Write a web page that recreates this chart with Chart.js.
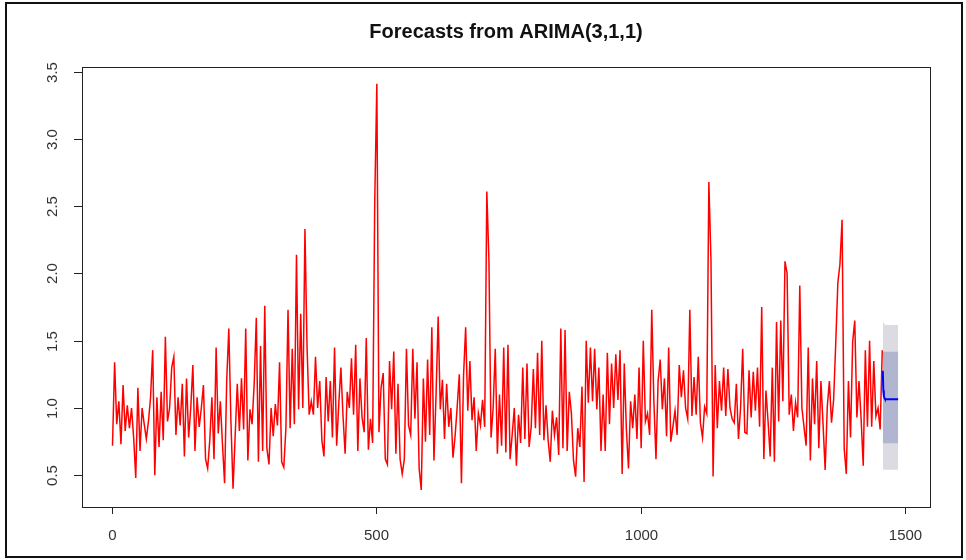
<!DOCTYPE html>
<html>
<head>
<meta charset="utf-8">
<title>Forecasts from ARIMA(3,1,1)</title>
<script src="https://cdn.jsdelivr.net/npm/chart.js@4.4.1/dist/chart.umd.min.js"></script>
<style>
  html, body { margin: 0; padding: 0; background: #fff; }
  #wrap { width: 966px; height: 560px; }
</style>
</head>
<body>
<div id="wrap"><canvas id="chartArima" width="966" height="560"></canvas></div>
<script>
// observed series, one reading every 4 steps starting at t = 1
const obsStep = 4;
const observed = [
  0.72, 1.34, 0.88, 1.05, 0.73, 1.17, 0.83, 1.02, 0.85, 1.00, 0.78, 0.48, 1.15, 0.68, 1.00, 0.88,
  0.77, 0.90, 1.08, 1.43, 0.50, 1.08, 0.71, 1.12, 0.76, 1.53, 0.90, 1.00, 1.30, 1.38, 0.80, 1.08,
  0.87, 1.18, 0.64, 1.22, 0.78, 1.00, 1.32, 0.68, 1.08, 0.86, 1.00, 1.17, 0.62, 0.55, 0.76,
  1.08, 0.62, 1.45, 0.81, 1.05, 0.73, 0.44, 1.20, 1.59, 0.90, 0.40, 0.79, 1.18, 0.83, 1.22, 0.84,
  1.59, 0.61, 0.99, 0.88, 1.18, 1.67, 0.60, 1.46, 0.68, 1.76, 0.70, 0.58, 1.00, 0.79, 1.03, 0.87,
  1.34, 0.60, 0.56, 0.85, 1.73, 0.85, 1.44, 0.88, 2.14, 0.99, 1.70, 1.00, 2.33, 1.45, 0.95, 1.05, 0.95,
  1.38, 1.00, 1.20, 0.76, 0.64, 1.23, 0.90, 1.20, 0.78, 1.45, 0.72, 1.03, 1.30, 0.94, 0.66, 1.12,
  1.00, 1.37, 0.95, 1.47, 0.68, 1.22, 0.93, 0.82, 1.52, 0.69, 0.92, 0.74, 2.53, 3.41, 0.82, 1.15,
  1.26, 0.62, 0.58, 1.35, 0.99, 1.42, 0.66, 1.18, 0.62, 0.51, 0.62, 1.44, 0.87, 0.80, 1.44, 0.92,
  1.34, 0.55,
  0.39, 1.22, 0.75, 1.36, 0.80, 1.60, 0.61, 1.10, 1.68, 0.99, 1.21, 0.77, 1.18, 0.86, 1.00, 0.63,
  0.79, 1.01, 1.25, 0.44, 1.24, 1.60, 0.98, 1.35, 0.91, 1.08, 0.68, 0.96, 0.87, 1.06, 0.86, 2.61,
  2.10, 0.78, 1.00, 1.44, 0.66, 1.10, 0.72, 1.45, 0.67, 1.47, 0.62, 0.80, 1.00, 0.57, 0.95, 0.74,
  1.30, 0.77,
  1.33, 0.71, 0.86, 1.29, 0.85, 1.41, 0.80, 1.50, 0.76, 1.02, 0.76, 0.60, 0.98, 0.80, 0.93, 0.65,
  1.59, 0.70, 1.58, 0.68, 1.12, 0.96, 0.61, 0.49, 0.85, 0.71, 1.16, 0.45, 1.50, 1.04, 1.45, 1.05,
  1.44, 0.99, 1.30, 0.68, 1.10, 0.68, 1.41, 0.88, 1.33, 1.00, 1.40, 1.06, 1.43, 0.51, 1.33, 0.84,
  0.55,
  1.05, 0.85, 1.10, 0.77, 1.30, 0.70, 1.50, 0.90, 0.96, 0.80, 1.73, 1.05, 0.62, 1.20, 1.36, 0.99,
  1.22, 0.79, 1.45, 0.75, 0.86, 0.98, 0.80, 1.32, 1.08, 1.28, 1.00, 0.92, 1.73, 0.94, 1.23, 0.95,
  1.38, 0.89, 0.78, 1.01, 0.96, 2.68, 2.10, 0.49, 1.32, 0.85, 1.20, 0.98, 1.30, 0.94, 1.29, 1.00,
  0.92, 0.89,
  1.18, 0.77, 1.00, 1.44, 0.82, 0.81, 1.28, 0.93, 1.27, 0.98, 1.30, 0.86, 1.75, 0.62, 1.13, 0.90,
  0.64, 1.30, 0.60, 1.64, 0.90, 1.65, 1.05, 2.09, 2.00, 0.95, 1.10, 0.83, 1.04, 0.93, 1.91, 1.00,
  0.86, 0.72, 1.45, 0.61, 1.22, 0.88, 1.35, 0.70, 1.20, 0.88, 0.54, 1.01, 1.20, 0.89, 1.06, 1.48,
  1.93,
  2.07, 2.40, 0.70, 0.51, 1.20, 0.78, 1.49, 1.65, 0.93, 1.20, 0.92, 0.57, 1.43, 0.86, 1.50, 0.86,
  1.35, 0.94, 1.00, 0.84, 1.43
];

// forecast horizon
const fcDays = [1458, 1459, 1460, 1461, 1462, 1464, 1487];
const fcMean = [1.277, 1.13, 1.09, 1.075, 1.068, 1.065, 1.065];
const hi80 = [1.418, 1.418, 1.418, 1.418, 1.418, 1.418, 1.418];
const lo80 = [0.738, 0.738, 0.738, 0.738, 0.738, 0.738, 0.738];
const hi95 = [1.64, 1.635, 1.63, 1.625, 1.62, 1.617, 1.617];
const lo95 = [0.56, 0.545, 0.54, 0.54, 0.54, 0.54, 0.54];

// axis ticks
const xTicks = [0, 500, 1000, 1500];
const yTicks = [0.5, 1.0, 1.5, 2.0, 2.5, 3.0, 3.5];
const yTickLabels = ['0.5', '1.0', '1.5', '2.0', '2.5', '3.0', '3.5'];

const pts = (xs, ys) => ys.map((v, i) => ({ x: xs[i], y: v }));
const obsPoints = observed.map((v, i) => ({ x: 1 + i * obsStep, y: v }));

// R style box, ticks, labels, title and outer frame
const rBase = {
  id: 'rBase',
  beforeDraw(chart) {
    const ctx = chart.ctx;
    ctx.save();
    ctx.fillStyle = '#fff';
    ctx.fillRect(0, 0, chart.width, chart.height);
    ctx.restore();
  },
  afterDraw(chart) {
    const { ctx, chartArea: a, scales: { x, y } } = chart;
    ctx.save();
    ctx.strokeStyle = '#222';
    ctx.lineWidth = 1;
    ctx.strokeRect(a.left + 0.5, a.top + 0.5, a.right - a.left, a.bottom - a.top);

    ctx.fillStyle = '#333';
    ctx.font = '15px "Liberation Sans", Arial, sans-serif';
    ctx.textAlign = 'center';
    ctx.textBaseline = 'middle';

    xTicks.forEach(t => {
      const px = Math.round(x.getPixelForValue(t)) + 0.5;
      ctx.beginPath();
      ctx.moveTo(px, a.bottom);
      ctx.lineTo(px, a.bottom + 7);
      ctx.stroke();
      ctx.fillText(String(t), px, a.bottom + 29);
    });

    yTicks.forEach((t, i) => {
      const py = Math.round(y.getPixelForValue(t)) + 0.5;
      ctx.beginPath();
      ctx.moveTo(a.left - 8, py);
      ctx.lineTo(a.left, py);
      ctx.stroke();
      ctx.save();
      ctx.translate(a.left - 29, py);
      ctx.rotate(-Math.PI / 2);
      ctx.fillText(yTickLabels[i], 0, 0);
      ctx.restore();
    });

    // titulo
    ctx.fillStyle = '#111';
    ctx.font = 'bold 20px "Liberation Sans", Arial, sans-serif';
    ctx.fillText('Forecasts from ARIMA(3,1,1)', (a.left + a.right) / 2, 32);

    // marco exterior
    ctx.strokeStyle = '#111';
    ctx.lineWidth = 2;
    ctx.strokeRect(6, 3, 956, 554);
    ctx.restore();
  }
};

new Chart(document.getElementById('chartArima').getContext('2d'), {
  type: 'line',
  data: {
    datasets: [
      { data: pts(fcDays, hi95), fill: '+1', backgroundColor: '#dbdbe1', borderWidth: 0, pointRadius: 0, order: 6 },
      { data: pts(fcDays, lo95), fill: false, borderWidth: 0, pointRadius: 0, order: 6 },
      { data: pts(fcDays, hi80), fill: '+1', backgroundColor: '#b1b5cf', borderWidth: 0, pointRadius: 0, order: 5 },
      { data: pts(fcDays, lo80), fill: false, borderWidth: 0, pointRadius: 0, order: 5 },
      { data: obsPoints, borderColor: '#ff0000', borderWidth: 1.5, pointRadius: 0, fill: false, order: 2 },
      { data: pts(fcDays, fcMean), borderColor: '#0000ff', borderWidth: 2, pointRadius: 0, fill: false, order: 1 }
    ]
  },
  options: {
    responsive: false,
    animation: false,
    devicePixelRatio: 1,
    layout: { padding: { left: 82, top: 67, right: 36, bottom: 53 } },
    elements: { line: { tension: 0 } },
    scales: {
      x: { type: 'linear', min: -56.7, max: 1547.3, display: false },
      y: { type: 'linear', min: 0.264, max: 3.535, display: false }
    },
    plugins: {
      legend: { display: false },
      tooltip: { enabled: false },
      title: { display: false }
    }
  },
  plugins: [rBase]
});
</script>
</body>
</html>
